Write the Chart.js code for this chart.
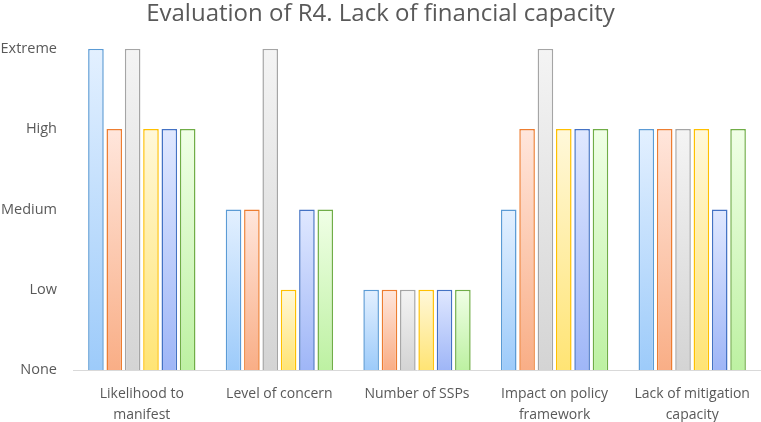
<!DOCTYPE html>
<html>
<head>
<meta charset="utf-8">
<script src="https://cdn.jsdelivr.net/npm/chart.js@4"></script>
<style>
  html, body { margin: 0; padding: 0; background: #fff; }
  #wrap { width: 761px; height: 422px; }
</style>
</head>
<body>
<div id="wrap"><canvas id="riskChart"></canvas></div>
<script>
'use strict';

const categories = [
  ['Likelihood to', 'manifest'],
  'Level of concern',
  'Number of SSPs',
  ['Impact on policy', 'framework'],
  ['Lack of mitigation', 'capacity']
];
const levelLabels = ['None', 'Low', 'Medium', 'High', 'Extreme'];

const series1 = [4, 2, 1, 2, 3];
const series2 = [3, 2, 1, 3, 3];
const series3 = [4, 4, 1, 4, 3];
const series4 = [3, 1, 1, 3, 3];
const series5 = [3, 2, 1, 3, 2];
const series6 = [3, 2, 1, 3, 3];

// border, gradient top, gradient bottom
const palette = [
  ['#5B9BD5', '#E3F0FF', '#9DCBFA'],
  ['#ED7D31', '#FFE6DC', '#F9AE86'],
  ['#A5A5A5', '#F4F4F4', '#D4D4D4'],
  ['#FFC000', '#FFF8DA', '#FFE474'],
  ['#4472C4', '#E0E8FF', '#9FB6F7'],
  ['#70AD47', '#F0FFE6', '#BDF1A2']
];

function barGradient(cols) {
  return (ctx) => {
    const chart = ctx.chart;
    const yScale = chart.scales.y;
    if (!chart.chartArea || !yScale || ctx.raw === undefined) return cols[2];
    const top = yScale.getPixelForValue(ctx.raw);
    const base = yScale.getPixelForValue(0);
    if (!isFinite(top) || !isFinite(base) || top === base) return cols[2];
    const g = chart.ctx.createLinearGradient(0, top, 0, base);
    g.addColorStop(0, cols[1]);
    g.addColorStop(1, cols[2]);
    return g;
  };
}

const allSeries = [series1, series2, series3, series4, series5, series6];

const ctx = document.getElementById('riskChart');
const myBarChart = new Chart(ctx, {
  type: 'bar',
  data: {
    labels: categories,
    datasets: allSeries.map((d, i) => ({
      label: 'Series ' + (i + 1),
      data: d,
      borderColor: palette[i][0],
      borderWidth: 1.5,
      backgroundColor: barGradient(palette[i]),
      categoryPercentage: 0.8,
      barPercentage: 0.85
    }))
  },
  options: {
    responsive: true,
    maintainAspectRatio: false,
    animation: false,
    layout: { padding: { left: 0, right: 0, top: 0, bottom: 0 } },
    plugins: {
      legend: { display: false },
      tooltip: { enabled: false },
      title: {
        display: true,
        text: 'Evaluation of R4. Lack of financial capacity',
        color: '#595959',
        font: { family: 'Open Sans', size: 24, weight: 'normal', lineHeight: 1.2 },
        padding: { top: 0, bottom: 20 }
      }
    },
    scales: {
      x: {
        grid: { display: false },
        border: { display: true, color: '#D9D9D9', width: 1 },
        afterFit: (scale) => { scale.height = 52; },
        ticks: {
          color: '#595959',
          font: { family: 'Open Sans', size: 14, lineHeight: 1.5 },
          maxRotation: 0,
          padding: 6
        }
      },
      y: {
        min: 0,
        max: 4,
        grid: { display: false },
        border: { display: false },
        afterFit: (scale) => { scale.width = 73; },
        ticks: {
          stepSize: 1,
          color: '#595959',
          font: { family: 'Open Sans', size: 14.5 },
          padding: 8,
          callback: (v) => levelLabels[v]
        }
      }
    }
  }
});
</script>
</body>
</html>
